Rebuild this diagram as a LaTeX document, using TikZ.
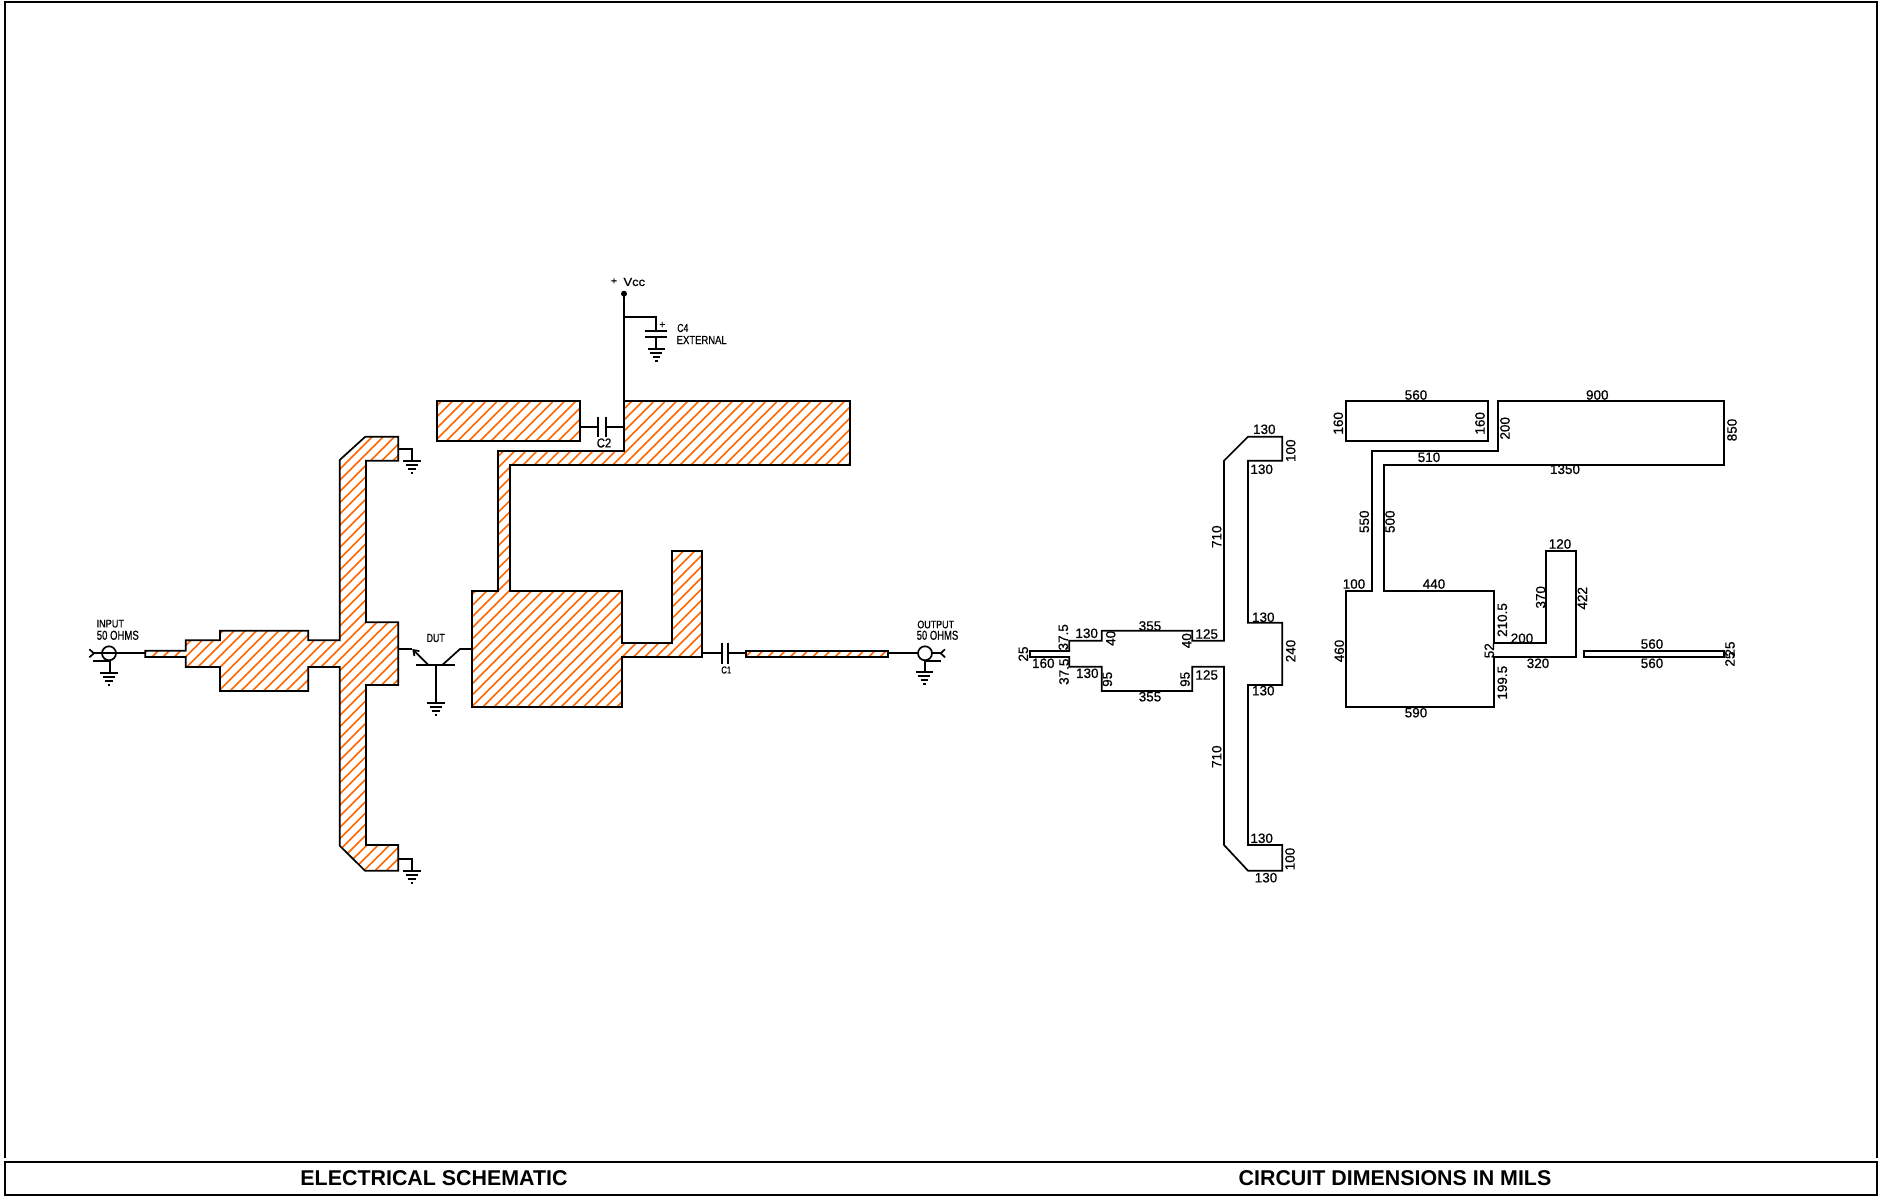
\documentclass[tikz,border=0pt]{standalone}
\usepackage{fontspec}
\usepackage{graphicx}
\setmainfont{Liberation Sans}
\usetikzlibrary{arrows.meta}
\definecolor{hatchor}{RGB}{255,102,0}
\newcounter{lc}
\newcommand{\lh}[2]{\stepcounter{lc}\node[dimlbl] (L\arabic{lc}) at (#1) {#2};}
\newcommand{\lv}[2]{\stepcounter{lc}\node[dimlbl,rotate=90] (L\arabic{lc}) at (#1) {#2};}
\newcommand{\fitlbl}[4]{\stepcounter{lc}\node[dimlbl] (L\arabic{lc}) at (#1) {\resizebox{#2pt}{#3pt}{#4}};}
\newcommand{\gnd}[2]{%
  \draw[wire] (#1-8.7,#2)--(#1+8.7,#2);
  \draw[wire] (#1-6,#2+4)--(#1+6,#2+4);
  \draw[wire] (#1-3.7,#2+8)--(#1+3.7,#2+8);
  \draw[wire] (#1-1.4,#2+12)--(#1+1.4,#2+12);}
\newcommand{\hatched}[1]{%
  \begin{scope}
    \clip #1;
    \foreach \k in {-12,...,66}{%
      \pgfmathsetmacro\cc{853.7+\k*11.2}
      \draw[hatchline] (\cc-380,380)--(\cc-900,900);}
  \end{scope}
  \draw[wire] #1;}
\tikzset{
  x=1pt,y=-1pt,
  wire/.style={draw=black,line width=1.7pt,line cap=butt,line join=miter},
  hatchline/.style={draw=hatchor,line width=1.6pt},
  outline/.style={wire},
  dimlbl/.style={inner sep=0pt,outer sep=0pt,font=\fontsize{13.5}{14}\selectfont\addfontfeature{FakeBold=0.7}},
  title/.style={inner sep=0pt,font=\bfseries\fontsize{21.4}{24}\selectfont}
}
\begin{document}
\begin{tikzpicture}
\useasboundingbox (0,0) rectangle (1885,1196);
% frame
\draw[wire,line width=2pt] (5,1158)--(5,1.7)--(1877,1.7)--(1877,1158);
\draw[wire,line width=2pt] (5,1162) rectangle (1877,1195);
\node[title] (t1) at (434,1178) {ELECTRICAL SCHEMATIC};
\node[title] (t2) at (1395,1178) {CIRCUIT DIMENSIONS IN MILS};
% ---------- schematic traces
\hatched{(145.3,650.7)--(185.7,650.7)--(185.7,640.3)--(220,640.3)--(220,630.7)--(308.3,630.7)--(308.3,640.3)--(339.7,640.3)--(339.7,460)--(365.3,436.7)--(398.3,436.7)--(398.3,460.7)--(366,460.7)--(366,622.3)--(398.3,622.3)--(398.3,685)--(366,685)--(366,845)--(398.3,845)--(398.3,870.7)--(365,870.7)--(339.7,845.7)--(339.7,667)--(308.3,667)--(308.3,691)--(220,691)--(220,667)--(185.7,667)--(185.7,657)--(145.3,657)--cycle}
\hatched{(437.3,401)--(580.3,401)--(580.3,441)--(437.3,441)--cycle}
\hatched{(624,401)--(850.3,401)--(850.3,465)--(510.3,465)--(510.3,590.7)--(622.3,590.7)--(622.3,642.7)--(671.7,642.7)--(671.7,550.7)--(702.3,550.7)--(702.3,657.3)--(622.3,657.3)--(622.3,707)--(471.7,707)--(471.7,590.7)--(498,590.7)--(498,451)--(624,451)--cycle}
\hatched{(745.7,651)--(888.3,651)--(888.3,656.7)--(745.7,656.7)--cycle}
% grounds on the stubs
\draw[wire] (398.3,449)--(412,449)--(412,460.7);
\gnd{412}{460.7}
\draw[wire] (398.3,859)--(412,859)--(412,871);
\gnd{412}{871}
% input port
\draw[wire] (89.3,649.3)--(94,653.3)--(89.3,657.3);
\draw[wire] (94,653.3)--(145.3,653.3);
\draw[wire] (109,653.3) circle (7);
\draw[wire] (93.3,660.7)--(110,660.7);
\draw[wire] (110,660.7)--(110,673);
\gnd{109}{673}
\fitlbl{110.3,623.7}{27.5}{7.5}{INPUT}
\fitlbl{117.8,635.3}{42}{9}{50 OHMS}
% output port
\draw[wire] (888.3,653.3)--(918,653.3);
\draw[wire] (925,653.3) circle (7);
\draw[wire] (932,653.3)--(940.7,653.3);
\draw[wire] (945,649.3)--(940.7,653.3)--(945,657.3);
\draw[wire] (925,661)--(940.7,661);
\draw[wire] (925,661)--(925,671.7);
\gnd{924.3}{671.7}
\fitlbl{935.7,624.5}{36.7}{7.5}{OUTPUT}
\fitlbl{937.5,635.3}{41.6}{9}{50 OHMS}
% DUT
\draw[wire] (398.3,649)--(412.3,649);
\draw[wire,-{Straight Barb[length=5pt,width=7pt]}] (428.3,665)--(412.3,649);
\draw[wire] (415.7,665)--(455,665);
\draw[wire] (435.7,665)--(435.7,702.7);
\gnd{436}{702.7}
\draw[wire] (442.3,665)--(460,649)--(471.7,649);
\fitlbl{435.7,638}{18}{8}{DUT}
% C2
\draw[wire] (580.3,426.7)--(597.7,426.7);
\draw[wire] (597.7,416.7)--(597.7,436.7);
\draw[wire] (606,416.7)--(606,436.7);
\draw[wire] (606,426.7)--(624,426.7);
\fitlbl{604,443}{14.5}{9}{C2}
% Vcc
\draw[wire] (624,293.7)--(624,401);
\fill (624,293.7) circle (3);
\fitlbl{614,281.3}{6}{6}{+}
\fitlbl{634.3,282}{21.5}{8}{Vcc}
\draw[wire] (624,317.3)--(656,317.3)--(656,330.7);
\draw[wire] (645.3,330.7)--(666.7,330.7);
\draw[wire] (645.3,337)--(666.7,337);
\draw[wire] (656,337)--(656,349.3);
\gnd{656.3}{349.3}
\fitlbl{662.3,325}{6}{6}{+}
\fitlbl{682.8,328}{11}{8}{C4}
\fitlbl{701.7,340}{50}{8}{EXTERNAL}
% C1
\draw[wire] (702.3,653)--(721.7,653);
\draw[wire] (721.7,642.7)--(721.7,664);
\draw[wire] (727.7,642.7)--(727.7,664);
\draw[wire] (727.7,653)--(745.7,653);
\fitlbl{726.3,670}{10}{7}{C1}
% ---------- dimensions: outlines
\draw[outline] (1030,651)--(1069.3,651)--(1069.3,640.7)--(1101.7,640.7)--(1101.7,630.7)--(1192.3,630.7)--(1192.3,640.7)--(1224,640.7)--(1224,460.7)--(1248,436.7)--(1282.3,436.7)--(1282.3,460.7)--(1248,460.7)--(1248,622.7)--(1282.3,622.7)--(1282.3,685)--(1248,685)--(1248,845)--(1282.3,845)--(1282.3,870.7)--(1248,870.7)--(1224,845)--(1224,666.7)--(1192.3,666.7)--(1192.3,691)--(1101.7,691)--(1101.7,666.7)--(1069.3,666.7)--(1069.3,657)--(1030,657)--cycle;
\draw[outline] (1346,401) rectangle (1487.7,441);
\draw[outline] (1498.3,401)--(1724.3,401)--(1724.3,465)--(1384,465)--(1384,590.7)--(1494,590.7)--(1494,643)--(1546,643)--(1546,551)--(1576,551)--(1576,656.7)--(1494,656.7)--(1494,706.7)--(1346,706.7)--(1346,590.7)--(1372,590.7)--(1372,451)--(1498.3,451)--cycle;
\draw[outline] (1584,651) rectangle (1724.3,656.7);
% labels, T-shape
\lh{1264.3,429.3}{130}
\lv{1290.7,450.7}{100}
\lh{1261.7,469.3}{130}
\lv{1216.7,536.7}{710}
\lh{1263.3,617.3}{130}
\lv{1290.7,651}{240}
\lh{1263.3,690.7}{130}
\lv{1216.7,756.7}{710}
\lh{1261.7,838.3}{130}
\lv{1290,859}{100}
\lh{1266,877.7}{130}
\lh{1206.7,634}{125}
\lv{1186.7,640.7}{40}
\lh{1206.7,675}{125}
\lv{1185,679.3}{95}
\lh{1150,626}{355}
\lh{1150,696.7}{355}
\lv{1110.7,638.3}{40}
\lv{1107.3,679.3}{95}
\lh{1086.7,633.3}{130}
\lh{1087.3,673.3}{130}
\lv{1063.3,637.3}{37.5}
\lv{1064,671.7}{37.5}
\lv{1023.3,654}{25}
\lh{1043.3,663.3}{160}
% labels, right part
\lh{1416,395}{560}
\lh{1597.3,395}{900}
\lv{1338.3,423.3}{160}
\lv{1480,423.3}{160}
\lv{1505,428.3}{200}
\lv{1732,430}{850}
\lh{1429,457.3}{510}
\lh{1565,469.3}{1350}
\lv{1364.3,521.7}{550}
\lv{1390,521.7}{500}
\lh{1354,584}{100}
\lh{1434,584}{440}
\lh{1560,544}{120}
\lv{1540.7,597.3}{370}
\lv{1582.3,598.3}{422}
\lv{1502.3,620}{210.5}
\lh{1522,638.3}{200}
\lv{1489.3,650.7}{52}
\lh{1652,644}{560}
\lh{1652,663.3}{560}
\lv{1730,649}{25}
\lv{1730,659}{25}
\lh{1538,663.3}{320}
\lv{1502.3,682.7}{199.5}
\lv{1339.3,651}{460}
\lh{1416,712.7}{590}
\end{tikzpicture}
\end{document}
